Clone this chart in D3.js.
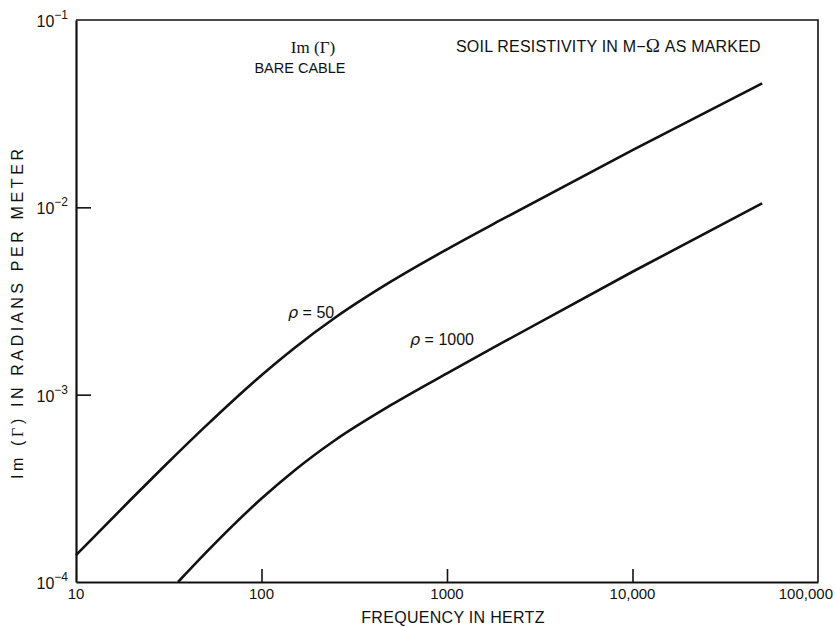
<!DOCTYPE html>
<html>
<head>
<meta charset="utf-8">
<script src="https://cdn.jsdelivr.net/npm/d3@7"></script>
<style>
  body { margin: 0; background: #fff; }
  svg text { font-family: "Liberation Sans", Arial, Helvetica, sans-serif; fill: #111; }
</style>
</head>
<body>
<div id="chart"></div>
<script>
// Im(Gamma) of bare cable vs frequency, log-log
const xTicks = [10, 100, 1000, 10000, 100000];
const xTickLabels = ["10", "100", "1000", "10,000", "100,000"];
const yTicks = [1e-1, 1e-2, 1e-3, 1e-4];
const yTickExps = ["\u22121", "\u22122", "\u22123", "\u22124"];

// rho = 50 ohm-m
const freq50 = [10, 20, 30, 50, 100, 150, 250, 500, 1000, 2000, 10000, 50000];
const im50   = [1.39e-4, 2.79e-4, 4.16e-4, 6.79e-4, 1.27e-3, 1.77e-3, 2.58e-3, 4.02e-3, 5.97e-3, 8.67e-3, 2.02e-2, 4.59e-2];
// rho = 1000 ohm-m
const freq1000 = [35.5, 50, 70, 100, 150, 250, 500, 1000, 2000, 10000, 50000];
const im1000   = [1.0e-4, 1.43e-4, 2.0e-4, 2.79e-4, 3.93e-4, 5.73e-4, 8.81e-4, 1.30e-3, 1.90e-3, 4.53e-3, 1.05e-2];

const W = 835, H = 627;
const L = 76, R = 818, T = 20, B = 582;

const svg = d3.select("#chart").append("svg").attr("width", W).attr("height", H);

const x = d3.scaleLog().domain([10, 100000]).range([L, R]);
const y = d3.scaleLog().domain([1e-4, 1e-1]).range([B, T]);

// frame: top + right thin
svg.append("path")
  .attr("d", `M${L},${T}H${R}V${B}`)
  .attr("fill", "none").attr("stroke", "#111").attr("stroke-width", 1.6);

// axes with inward ticks
const xAxis = svg.append("g").attr("transform", `translate(0,${B})`)
  .call(d3.axisBottom(x).tickValues(xTicks.slice(1, -1)).tickSize(-13).tickSizeOuter(0).tickFormat(""));
const yAxis = svg.append("g").attr("transform", `translate(${L},0)`)
  .call(d3.axisLeft(y).tickValues(yTicks.slice(1, -1)).tickSize(-15).tickSizeOuter(0).tickFormat(""));
[xAxis, yAxis].forEach(g => {
  g.select(".domain").attr("stroke", "#111").attr("stroke-width", 2.2);
  g.selectAll(".tick line").attr("stroke", "#111").attr("stroke-width", 1.6);
});

// x tick labels (last one pulled in from the edge)
svg.append("g").selectAll("text").data(xTicks).enter().append("text")
  .attr("x", (d, i) => i === xTicks.length - 1 ? W - 2 : x(d)).attr("y", B + 17)
  .attr("text-anchor", (d, i) => i === xTicks.length - 1 ? "end" : "middle")
  .attr("font-size", "15px")
  .text((d, i) => xTickLabels[i]);

// y tick labels: 10^-n
const yl = svg.append("g").selectAll("text").data(yTicks).enter().append("text")
  .attr("x", 68).attr("y", d => y(d) + 7)
  .attr("text-anchor", "end").attr("font-size", "16px");
yl.append("tspan").text("10");
yl.append("tspan").attr("dy", -8).attr("font-size", "12px").text((d, i) => yTickExps[i]);

// curves
const line = d3.line().x(d => x(d[0])).y(d => y(d[1])).curve(d3.curveMonotoneX);
const series = [freq50.map((f, i) => [f, im50[i]]), freq1000.map((f, i) => [f, im1000[i]])];
svg.selectAll("path.curve").data(series).enter().append("path")
  .attr("class", "curve")
  .attr("d", line)
  .attr("fill", "none").attr("stroke", "#111").attr("stroke-width", 2.6);

// curve labels
const lab = (tx, ty, val) => {
  const t = svg.append("text").attr("x", tx).attr("y", ty).attr("font-size", "16px");
  t.append("tspan").attr("font-style", "italic").style("font-family", "DejaVu Sans, sans-serif").text("\u03c1");
  t.append("tspan").text(" = " + val);
};
lab(288, 318, "50");
lab(410, 345, "1000");

// header texts
svg.append("text").attr("x", 313).attr("y", 53).attr("text-anchor", "middle")
  .style("font-family", "Liberation Serif, serif").attr("font-size", "17px").text("Im (\u0393)");
svg.append("text").attr("x", 300).attr("y", 73).attr("text-anchor", "middle")
  .attr("font-size", "14.5px").text("BARE CABLE");

const soil = svg.append("text").attr("x", 456).attr("y", 52).attr("font-size", "16px")
  .attr("letter-spacing", "0.2px");
soil.append("tspan").text("SOIL RESISTIVITY IN M\u2212");
soil.append("tspan").style("font-family", "Liberation Serif, serif").attr("font-size", "19px").text("\u03a9");
soil.append("tspan").text(" AS MARKED");

// axis titles
svg.append("text").attr("x", 453).attr("y", 623).attr("text-anchor", "middle")
  .attr("font-size", "16px").attr("letter-spacing", "0.3px").text("FREQUENCY IN HERTZ");

const yt = svg.append("text").attr("transform", "translate(23,314) rotate(-90)")
  .attr("text-anchor", "middle").attr("font-size", "16px")
  .attr("textLength", 330).attr("lengthAdjust", "spacing");
yt.append("tspan").text("Im (");
yt.append("tspan").style("font-family", "Liberation Serif, serif").text("\u0393");
yt.append("tspan").text(") IN RADIANS PER METER");
</script>
</body>
</html>
